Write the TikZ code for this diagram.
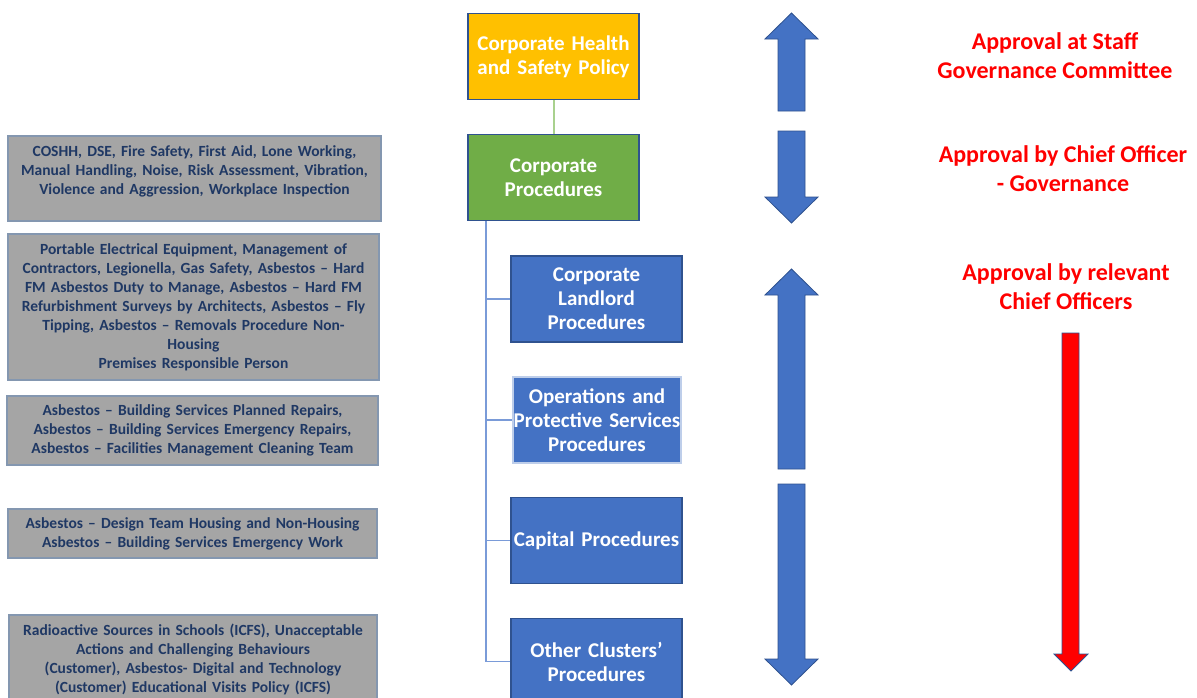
\documentclass[tikz,border=0pt]{standalone}
\usepackage{fontspec}
\setmainfont{Carlito}
\usepackage{tikz}
\definecolor{hsyellow}{HTML}{FFC000}
\definecolor{cpgreen}{HTML}{70AD47}
\definecolor{linkgreen}{HTML}{A9D18E}
\definecolor{procblue}{HTML}{4472C4}
\definecolor{edgeblue}{HTML}{2F528F}
\definecolor{treeblue}{HTML}{7A9BD8}
\definecolor{listgrey}{HTML}{A5A5A5}
\definecolor{listedge}{HTML}{8497B0}
\definecolor{listtext}{HTML}{1F3864}
\definecolor{apred}{HTML}{FF0000}

\tikzset{
  mainbox/.style={draw=edgeblue, line width=1.5pt, text=white,
    font=\fontsize{21}{24}\selectfont\bfseries, minimum width=171pt,
    minimum height=86pt, text width=171pt, inner sep=0pt, align=center},
  procbox/.style={mainbox, fill=procblue},
  listbox/.style={draw=listedge, line width=1.2pt, fill=listgrey, text=listtext,
    font=\fontsize{15.5}{19}\selectfont\bfseries, inner sep=0pt, align=center},
  approval/.style={text=apred, font=\fontsize{24}{29}\selectfont\bfseries, align=center},
  bigarrow/.style={fill=procblue, draw=edgeblue, line width=0.8pt},
  tree/.style={treeblue, line width=1.5pt}
}

\begin{document}
\begin{tikzpicture}[x=1pt,y=-1pt]
\begin{scope}
\clip (0,0) rectangle (1197,697);
\fill[white] (0,0) rectangle (1197,697);

% policy and corporate procedures
\node[mainbox, fill=hsyellow] (hs) at (553.5,56.5) {Corporate Health\\and Safety Policy};
\node[mainbox, fill=cpgreen] (cp) at (553.5,177.5) {Corporate\\Procedures};
\draw[linkgreen, line width=2pt] (hs.south) -- (cp.north);

% cluster procedures
\node[procbox] (cl) at (596.5,299) {Corporate\\Landlord\\Procedures};
\node[procbox, draw=procblue!35, minimum width=168pt, text width=168pt] (op) at (597,420) {Operations and\\Protective Services\\Procedures};
\node[procbox] (ca) at (596.5,540.5) {Capital Procedures};
\node[procbox] (oc) at (596.5,661.5) {Other Clusters’\\Procedures};

\coordinate (trunk) at ([xshift=-67.5pt]cp.south);
\draw[tree] (trunk) |- (cl.west);
\draw[tree] (trunk) |- (op.west);
\draw[tree] (trunk) |- (ca.west);
\draw[tree] (trunk) |- (oc.west);

% procedure lists
\node[listbox, minimum width=373pt, text width=373pt, minimum height=85pt, text depth=55pt] (l1) at (194.5,178.5)
  {COSHH, DSE, Fire Safety, First Aid, Lone Working,\\Manual Handling, Noise, Risk Assessment, Vibration,\\Violence and Aggression, Workplace Inspection};
\node[listbox, minimum width=371pt, text width=371pt, minimum height=146pt] (l2) at (193.5,307)
  {Portable Electrical Equipment, Management of\\Contractors, Legionella, Gas Safety, Asbestos -- Hard\\FM Asbestos Duty to Manage, Asbestos -- Hard FM\\Refurbishment Surveys by Architects, Asbestos -- Fly\\Tipping, Asbestos -- Removals Procedure Non-\\Housing\\Premises Responsible Person};
\node[listbox, minimum width=371pt, text width=371pt, minimum height=69pt] (l3) at (192.5,430.5)
  {Asbestos -- Building Services Planned Repairs,\\Asbestos -- Building Services Emergency Repairs,\\Asbestos -- Facilities Management Cleaning Team};
\node[listbox, minimum width=369pt, text width=369pt, minimum height=49pt] (l4) at (192.5,533.5)
  {Asbestos -- Design Team Housing and Non-Housing\\Asbestos -- Building Services Emergency Work};
\node[listbox, minimum width=368pt, text width=368pt, minimum height=89pt] (l5) at (193,659.5)
  {Radioactive Sources in Schools (ICFS), Unacceptable\\Actions and Challenging Behaviours\\(Customer), Asbestos- Digital and Technology\\(Customer) Educational Visits Policy (ICFS)};

% approval arrows
\draw[bigarrow] (791.5,13) -- (818,39) -- (805,39) -- (805,111) -- (778,111) -- (778,39) -- (765,39) -- cycle;
\draw[bigarrow] (778,131) -- (805,131) -- (805,197) -- (818,197) -- (791.5,223) -- (765,197) -- (778,197) -- cycle;
\draw[bigarrow] (791.5,269) -- (818,295) -- (805,295) -- (805,469) -- (778,469) -- (778,295) -- (765,295) -- cycle;
\draw[bigarrow] (778,484) -- (805,484) -- (805,659) -- (818,659) -- (791.5,685) -- (765,659) -- (778,659) -- cycle;
\draw[bigarrow, fill=apred] (1062,333) -- (1079,333) -- (1079,654) -- (1088,654) -- (1071,671) -- (1054,654) -- (1062,654) -- cycle;

% approval labels
\node[approval] (ap1) at (1055,55.5) {Approval at Staff\\Governance Committee};
\node[approval] (ap2) at (1063,169) {Approval by Chief Officer\\- Governance};
\node[approval] (ap3) at (1066,287) {Approval by relevant\\Chief Officers};
\end{scope}
\end{tikzpicture}
\end{document}
